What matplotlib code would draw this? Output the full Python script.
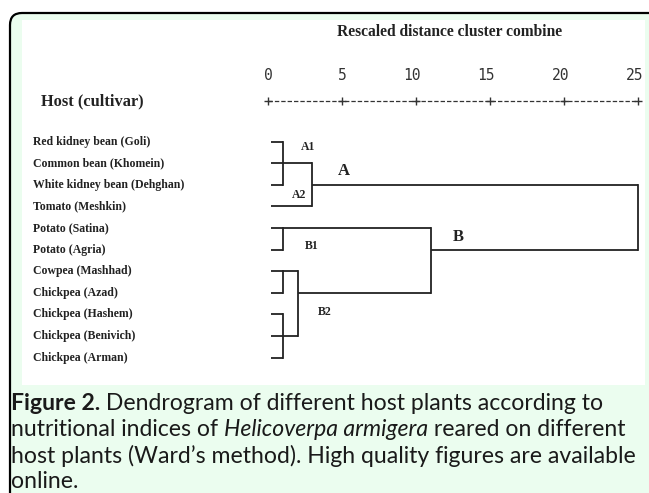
import matplotlib
matplotlib.use('Agg')
import matplotlib.pyplot as plt
from matplotlib.patches import FancyBboxPatch, Rectangle
import matplotlib.transforms as mtransforms

W, H = 649, 493

# leaf labels, top to bottom
hosts = [
    'Red kidney bean (Goli)',
    'Common bean (Khomein)',
    'White kidney bean (Dehghan)',
    'Tomato (Meshkin)',
    'Potato (Satina)',
    'Potato (Agria)',
    'Cowpea (Mashhad)',
    'Chickpea (Azad)',
    'Chickpea (Hashem)',
    'Chickpea (Benivich)',
    'Chickpea (Arman)',
]

# merges: name, children (leaf index or cluster name), rescaled distance, row of the outgoing line
merge_names = ['A1', 'B1', 'c1', 'c2', 'B2', 'A', 'B', 'root']
merge_children = [[0, 1, 2], [4, 5], [6, 7], [8, 9, 10], ['c1', 'c2'], ['A1', 3], ['B1', 'B2'], ['A', 'B']]
merge_dist = [1, 1, 1, 1, 2, 3, 11, 25]
merge_row = [1, 4, 6, 9, 7, 2, 5, None]

scale_ticks = [0, 5, 10, 15, 20, 25]
leaf_start = 0.2

# cluster labels: text, x (distance), y (row), size
cl_text = ['A1', 'A2', 'A', 'B1', 'B2', 'B']
cl_x = [2.2, 1.6, 4.7, 2.5, 3.4, 12.5]
cl_y = [0.25, 2.5, 1.35, 4.85, 7.9, 4.4]
cl_size = [8.5, 8.5, 12, 8.5, 8.5, 12]

fig = plt.figure(figsize=(W / 100, H / 100), dpi=100)
fig.patch.set_facecolor('white')


def fx(x):
    return x / W


def fy(y):
    return 1 - y / H


# caption box with rounded corner (pixel coords)
box = FancyBboxPatch((10, H - 530), 700, 530 - 13,
                     boxstyle='round,pad=0,rounding_size=12',
                     transform=None, facecolor='#ebfdef', edgecolor='black',
                     linewidth=1.6, zorder=-2)
fig.patches.append(box)
panel = Rectangle((22, H - 385), 645 - 22, 385 - 20, transform=None,
                  facecolor='white', edgecolor='none', zorder=-1)
fig.patches.append(panel)

# dendrogram axes: x = 0..25 mapped to pixel 268..638, rows 0..10 to 141.5..357.5
row0, rowstep = 141.5, 21.6
top = row0 - rowstep / 2
bot = row0 + 10 * rowstep + rowstep / 2
ax = fig.add_axes([fx(268), fy(bot), fx(638) - fx(268), (bot - top) / H])
ax.set_xlim(0, 25)
ax.set_ylim(10.5, -0.5)
ax.axis('off')
ax.patch.set_alpha(0)

lc = '#222222'
lw = 1.3
pos = {}
for i in range(len(hosts)):
    pos[i] = (leaf_start, i)
for name, kids, d, r in zip(merge_names, merge_children, merge_dist, merge_row):
    rows = []
    for k in kids:
        x0, y0 = pos[k]
        ax.plot([x0, d], [y0, y0], color=lc, lw=lw, solid_capstyle='butt', clip_on=False)
        rows.append(y0)
    ax.plot([d, d], [min(rows), max(rows)], color=lc, lw=lw, solid_capstyle='projecting', clip_on=False)
    if r is not None:
        pos[name] = (d, r)

for t, x, y, s in zip(cl_text, cl_x, cl_y, cl_size):
    ax.text(x, y, t, fontsize=s, fontweight='bold', family='Liberation Serif',
            ha='left', va='center', color='#222222')

# leaf labels
lab_tr = mtransforms.blended_transform_factory(fig.transFigure, ax.transData)
for i, h in enumerate(hosts):
    ax.text(fx(33), i, h, transform=lab_tr, fontsize=8.5, fontweight='bold',
            family='Liberation Serif', ha='left', va='center', color='#222222')

# distance scale
scale_y = (101 - row0) / rowstep
num_y = (75 - row0) / rowstep
ax.plot([0, 25], [scale_y, scale_y], color='#333333', lw=0.9, ls=(0, (3.5, 1.6)), clip_on=False)
ax.plot(scale_ticks, [scale_y] * len(scale_ticks), ls='none', marker='+', ms=6,
        mew=1.0, color='#333333', clip_on=False)
for t in scale_ticks:
    ax.text(t - (0.25 if t >= 10 else 0), num_y, str(t), ha='center', va='center',
            fontsize=10.5, family='DejaVu Sans Mono', color='#333333')

ax.text(fx(41), scale_y, 'Host (cultivar)', transform=lab_tr, fontsize=11.8,
        fontweight='bold', family='Liberation Serif', ha='left', va='center', color='#222222')
fig.text(fx(337), fy(32), 'Rescaled distance cluster combine', fontsize=11.2,
         fontweight='bold', family='Liberation Serif', ha='left', va='center', color='#222222')

# caption, drawn piece by piece
cap_lines = [
    [('Figure 2.', 'bold', 'normal'), (' Dendrogram of different host plants according to', 'normal', 'normal')],
    [('nutritional indices of ', 'normal', 'normal'), ('Helicoverpa armigera', 'normal', 'italic'),
     (' reared on different', 'normal', 'normal')],
    [('host plants (Ward\u2019s method). High quality figures are available', 'normal', 'normal')],
    [('online.', 'normal', 'normal')],
]
cap_y = [404, 430, 455.5, 481]
renderer = fig.canvas.get_renderer()
for pieces, y in zip(cap_lines, cap_y):
    x = 11
    for txt, wt, st in pieces:
        t = fig.text(fx(x), fy(y), txt, fontsize=16.6, fontweight=wt, fontstyle=st,
                     family='Lato', ha='left', va='center', color='#1a1a1a')
        x += t.get_window_extent(renderer).width

fig.savefig('out.png', dpi=100, facecolor=fig.get_facecolor())
